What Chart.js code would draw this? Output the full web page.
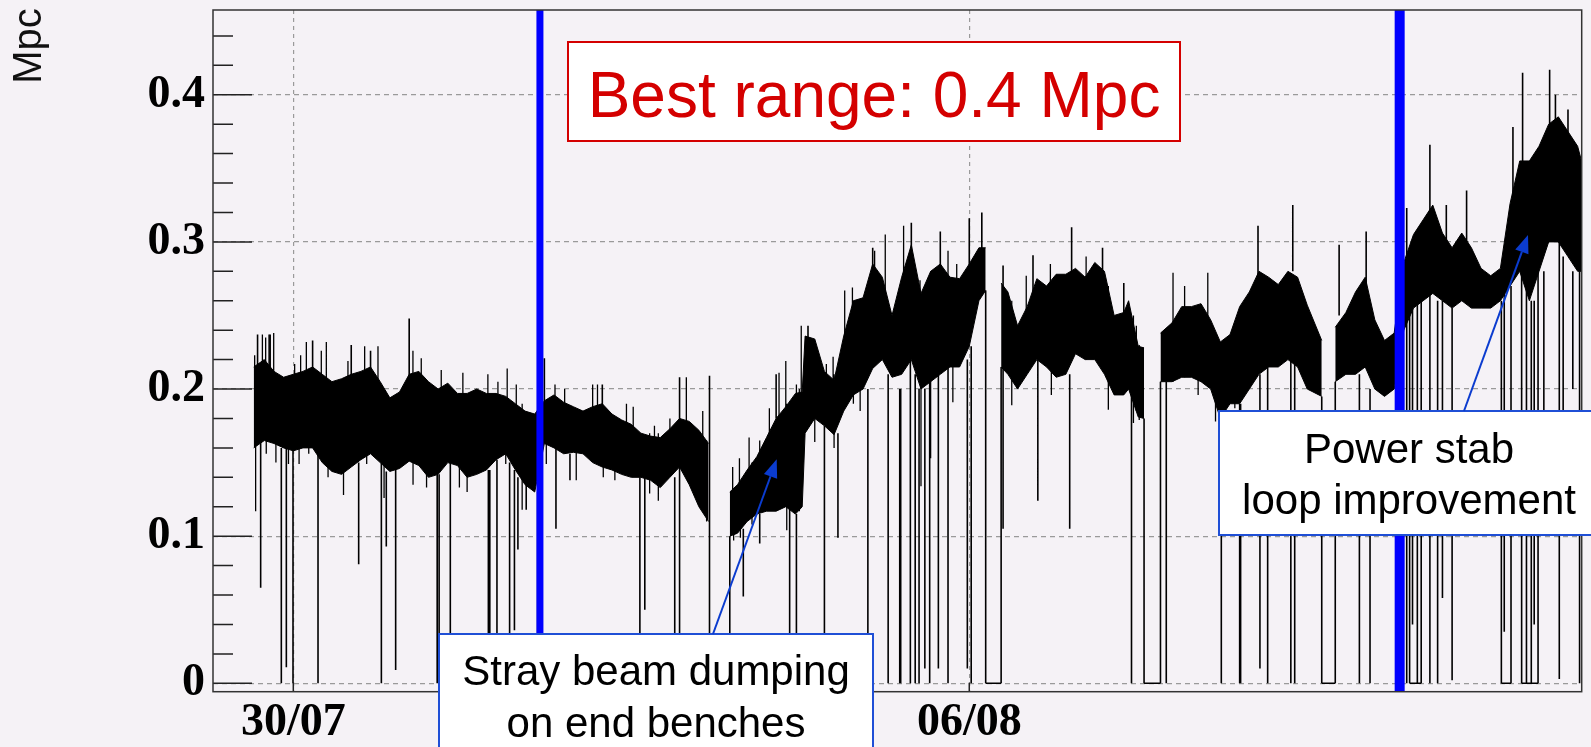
<!DOCTYPE html>
<html>
<head>
<meta charset="utf-8">
<script src="https://cdn.jsdelivr.net/npm/chart.js@4.4.1/dist/chart.umd.min.js"></script>
<style>
  html, body { margin: 0; padding: 0; background: #f5f2f6; }
  #rangeBox { width: 1591px; height: 747px; }
</style>
</head>
<body>
<div id="rangeBox"><canvas id="rangeCanvas" width="1591" height="747"></canvas></div>
<script>
// x is days since 30/07 00:00, y is range in Mpc
const xTickDays = [0, 7];
const xTickLabels = ['30/07', '06/08'];
const yTicks = [0, 0.1, 0.2, 0.3, 0.4];
const yMinorTicks = [0.02, 0.04, 0.06, 0.08, 0.12, 0.14, 0.16, 0.18, 0.22, 0.24, 0.26, 0.28,
  0.32, 0.34, 0.36, 0.38, 0.42, 0.44];

// dense part of the trace: upper / lower edge of the black band
const bandDay = [-0.41, -0.3, -0.2, -0.1, 0, 0.1, 0.2, 0.3, 0.4, 0.5, 0.6, 0.7, 0.8, 0.9, 1.0, 1.1, 1.2, 1.3,
  1.4, 1.5, 1.6, 1.7, 1.8, 1.9, 2.0, 2.1, 2.2, 2.3, 2.4, 2.5, 2.6, 2.7, 2.8, 2.9, 3.0, 3.1, 3.2, 3.3, 3.4,
  3.5, 3.6, 3.7, 3.8, 3.9, 4.0, 4.1, 4.2, 4.3, 4.41, 4.52, 4.6, 4.7, 4.8, 4.9, 5.0, 5.1, 5.2, 5.27, 5.3,
  5.4, 5.5, 5.6, 5.7, 5.8, 5.9, 6.0, 6.1, 6.2, 6.3, 6.4, 6.5, 6.6, 6.7, 6.8, 6.9, 7.0, 7.1, 7.17, 7.25,
  7.33, 7.4, 7.5, 7.6, 7.7, 7.8, 7.9, 8.0, 8.1, 8.2, 8.3, 8.4, 8.5, 8.6, 8.65, 8.75, 8.81, 8.9, 8.98,
  9.1, 9.2, 9.3, 9.4, 9.5, 9.6, 9.7, 9.8, 9.9, 10.0, 10.1, 10.2, 10.3, 10.4, 10.5, 10.65, 10.72, 10.79,
  10.9, 11.0, 11.1, 11.2, 11.3, 11.4, 11.5, 11.6, 11.7, 11.8, 11.9, 12.0, 12.1, 12.2, 12.3, 12.4, 12.5,
  12.6, 12.7, 12.8, 12.9, 13.0, 13.1, 13.2, 13.3, 13.34];
const bandHigh = [0.215, 0.22, 0.212, 0.208, 0.21, 0.212, 0.215, 0.21, 0.205, 0.207, 0.21, 0.212, 0.215,
  0.205, 0.194, 0.198, 0.21, 0.212, 0.205, 0.2, 0.204, 0.197, 0.197, 0.2, 0.197, 0.197, 0.195, 0.19, 0.185,
  0.183, 0.192, 0.196, 0.191, 0.188, 0.185, 0.188, 0.19, 0.183, 0.179, 0.176, 0.17, 0.168, 0.167, 0.173,
  0.18, 0.178, 0.172, 0.163, null, 0.13, 0.135, 0.145, 0.154, 0.167, 0.18, 0.188, 0.197, 0.198, 0.236,
  0.234, 0.212, 0.206, 0.236, 0.26, 0.262, 0.285, 0.276, 0.25, 0.276, 0.298, 0.265, 0.28, 0.285, 0.276,
  0.275, 0.285, 0.296, 0.296, null, 0.272, 0.266, 0.243, 0.256, 0.275, 0.27, 0.278, 0.278, 0.282, 0.276,
  0.286, 0.28, 0.25, 0.252, 0.26, 0.229, 0.228, null, 0.238, 0.245, 0.256, 0.256, 0.258, 0.247, 0.232,
  0.237, 0.256, 0.266, 0.28, 0.276, 0.271, 0.28, 0.276, 0.257, 0.233, null, 0.242, 0.252, 0.266, 0.276,
  0.247, 0.233, 0.238, 0.286, 0.305, 0.315, 0.325, 0.306, 0.296, 0.306, 0.296, 0.282, 0.277, 0.282,
  0.326, 0.355, 0.355, 0.365, 0.38, 0.385, 0.375, 0.365, 0.355];
const bandLow = [0.16, 0.165, 0.163, 0.16, 0.158, 0.16, 0.16, 0.15, 0.144, 0.142, 0.147, 0.152, 0.156,
  0.15, 0.144, 0.146, 0.151, 0.148, 0.14, 0.142, 0.15, 0.148, 0.14, 0.142, 0.145, 0.152, 0.156, 0.145,
  0.135, 0.13, 0.163, 0.16, 0.156, 0.157, 0.156, 0.15, 0.147, 0.145, 0.142, 0.14, 0.14, 0.138, 0.133,
  0.14, 0.147, 0.135, 0.12, 0.11, null, 0.1, 0.102, 0.11, 0.115, 0.117, 0.117, 0.12, 0.115, 0.12, 0.17,
  0.18, 0.175, 0.169, 0.185, 0.196, 0.2, 0.214, 0.22, 0.208, 0.21, 0.22, 0.2, 0.205, 0.21, 0.215,
  0.215, 0.229, 0.26, 0.267, null, 0.215, 0.21, 0.2, 0.21, 0.22, 0.215, 0.208, 0.21, 0.224, 0.22,
  0.22, 0.21, 0.196, 0.196, 0.2, 0.181, 0.18, null, 0.205, 0.205, 0.208, 0.208, 0.205, 0.2, 0.18, 0.19,
  0.19, 0.2, 0.21, 0.215, 0.215, 0.22, 0.215, 0.2, 0.195, null, 0.205, 0.21, 0.21, 0.215, 0.2, 0.195,
  0.2, 0.24, 0.255, 0.26, 0.265, 0.26, 0.255, 0.26, 0.255, 0.255, 0.255, 0.26, 0.27, 0.28, 0.26, 0.28,
  0.3, 0.3, 0.29, 0.28, 0.28];

// single excursions: dropouts and isolated peaks
const spikeDay = [-0.37, -0.338, -0.25, -0.124, -0.072, -0.003, 0.2, 0.256, 0.6, 0.677, 0.8, 0.912,
  0.963, 1.06, 1.2, 1.49, 1.51, 1.626, 2.02, 2.035, 2.109, 2.24, 2.29, 2.326, 2.412, 2.53, 2.6, 2.72,
  2.865, 3.2, 3.589, 3.64, 3.95, 4.0, 4.31, 4.52, 4.66, 4.83, 5.0, 5.14, 5.21, 5.33, 5.5, 5.64, 5.95,
  6.0, 6.16, 6.28, 6.29, 6.39, 6.4, 6.44, 6.48, 6.54, 6.59, 6.68, 6.7, 6.78, 6.98, 7.0, 7.02, 7.13,
  7.17, 7.33, 7.35, 7.66, 7.71, 8.04, 8.06, 8.38, 8.6, 8.68, 8.81, 8.98, 9.04, 9.61, 9.8, 9.81, 9.99,
  10.01, 10.09, 10.33, 10.35, 10.37, 10.65, 10.79, 10.83, 11.04, 11.11, 11.15, 11.53, 11.56, 11.59,
  11.64, 11.68, 11.77, 11.85, 11.9, 11.94, 12.0, 12.15, 12.51, 12.54, 12.61, 12.63, 12.72, 12.73,
  12.77, 12.82, 12.85, 12.89, 12.95, 13.01, 13.07, 13.11, 13.15, 13.2, 13.25, 13.32];
const spikeHigh = [0.237, 0.17, 0.237, 0.16, 0.16, 0.16, 0.233, 0.16, 0.23, 0.15, 0.226, 0.15, 0.144,
  0.146, 0.248, 0.142, 0.142, 0.15, 0.145, 0.145, 0.152, 0.15, 0.145, 0.14, 0.135, 0.13, 0.221, 0.16,
  0.156, 0.203, 0.14, 0.14, 0.14, 0.208, 0.209, 0.1, 0.105, 0.115, 0.21, 0.12, 0.115, 0.243, 0.175,
  0.17, 0.2, 0.296, 0.21, 0.2, 0.2, 0.22, 0.313, 0.21, 0.2, 0.2, 0.205, 0.21, 0.307, 0.215, 0.22,
  0.316, 0.229, 0.32, 0.267, 0.215, 0.284, 0.291, 0.22, 0.21, 0.31, 0.296, 0.272, 0.2, 0.18, 0.205,
  0.205, 0.19, 0.19, 0.19, 0.311, 0.21, 0.215, 0.22, 0.325, 0.22, 0.195, 0.205, 0.298, 0.21, 0.307,
  0.2, 0.323, 0.255, 0.255, 0.26, 0.26, 0.366, 0.26, 0.26, 0.325, 0.255, 0.335, 0.26, 0.27, 0.27,
  0.378, 0.28, 0.415, 0.28, 0.26, 0.26, 0.28, 0.28, 0.417, 0.4, 0.3, 0.29, 0.39, 0.28, 0.28];
const spikeLow = [0.2, 0.065, 0.2, 0, 0.011, 0, 0.2, 0, 0.2, 0.081, 0.2, 0, 0.093, 0.009, 0.2, 0, 0,
  0.034, 0, 0, 0.034, 0.034, 0.036, 0.091, 0.118, 0, 0.19, 0.105, 0.138, 0.18, 0, 0.05, 0, 0, 0, 0,
  0.059, 0.095, 0.18, 0, 0, 0.22, 0, 0.099, 0, 0.27, 0, 0, 0, 0, 0.29, 0, 0, 0.01, 0, 0.01, 0.28, 0,
  0.01, 0.28, 0, 0.29, 0, 0, 0.105, 0.26, 0.124, 0.105, 0.28, 0.28, 0.25, 0, 0, 0, 0, 0, 0, 0, 0.27,
  0.01, 0, 0, 0.28, 0, 0, 0, 0.25, 0, 0.27, 0, 0, 0, 0.04, 0, 0, 0, 0, 0.058, 0.3, 0.002, 0.3, 0,
  0.035, 0, 0.33, 0, 0.35, 0, 0, 0.04, 0, 0.15, 0.37, 0.37, 0.003, 0.12, 0.37, 0.2, 0];

// short hairs sticking out of the band
const whiskerDay = [-0.4, -0.32, -0.286, -0.238, -0.203, 0.014, 0.076, 0.135, 0.29, 0.342, 0.566, 0.739,
  0.877, 1.239, 1.325, 1.532, 1.756, 2.015, 2.119, 2.215, 2.309, 2.71, 2.81, 3.1, 3.15, 3.45, 3.52,
  3.74, 3.9, 4.07, 4.24, 4.55, 4.62, 4.72, 4.83, 4.93, 5.03, 5.1, 5.21, 5.26, 5.52, 5.59, 5.71, 5.79,
  6.02, 6.13, 6.32, 6.49, 6.78, 6.87, 7.59, 7.84, 8.21, 8.73, 9.11, 9.23, 9.47,
  -0.39, -0.28, -0.18, -0.05, 0.06, 0.16, 0.36, 0.52, 0.76, 0.94, 1.24, 1.38, 1.72, 1.8, 2.2, 2.37,
  2.49, 2.62, 2.93, 3.21, 3.33, 3.69, 3.78, 4.21, 4.28, 4.56, 4.63, 4.75, 5.11, 5.24, 5.4, 5.6, 5.8,
  5.87, 6.5, 6.6, 6.83, 7.44, 7.85, 8.44, 8.7, 8.76, 9.37, 9.55, 9.75];
const whiskerHigh = [0.223, 0.237, 0.235, 0.237, 0.238, 0.217, 0.223, 0.232, 0.226, 0.232, 0.219, 0.229,
  0.229, 0.226, 0.221, 0.213, 0.211, 0.21, 0.205, 0.214, 0.203, 0.203, 0.2, 0.203, 0.203, 0.19, 0.188,
  0.175, 0.18, 0.208, 0.185, 0.147, 0.153, 0.167, 0.165, 0.187, 0.211, 0.219, 0.203, 0.243, 0.217,
  0.222, 0.267, 0.269, 0.294, 0.305, 0.311, 0.274, 0.294, 0.285, 0.277, 0.285, 0.29, 0.243, 0.279,
  0.27, 0.279,
  0.2, 0.2, 0.2, 0.2, 0.2, 0.2, 0.2, 0.19, 0.2, 0.19, 0.2, 0.2, 0.19, 0.19, 0.19, 0.19, 0.18, 0.19,
  0.185, 0.185, 0.18, 0.17, 0.17, 0.17, 0.165, 0.13, 0.135, 0.15, 0.19, 0.2, 0.23, 0.21, 0.26, 0.26,
  0.26, 0.28, 0.27, 0.26, 0.27, 0.27, 0.25, 0.23, 0.25, 0.23, 0.24];
const whiskerLow = [0.17, 0.17, 0.17, 0.17, 0.17, 0.165, 0.165, 0.165, 0.16, 0.155, 0.155, 0.16, 0.16,
  0.155, 0.155, 0.15, 0.15, 0.15, 0.155, 0.155, 0.15, 0.165, 0.16, 0.155, 0.155, 0.15, 0.145, 0.14,
  0.145, 0.15, 0.13, 0.105, 0.105, 0.115, 0.12, 0.12, 0.12, 0.12, 0.12, 0.13, 0.18, 0.175, 0.19, 0.2,
  0.22, 0.22, 0.215, 0.205, 0.215, 0.215, 0.21, 0.215, 0.22, 0.185, 0.205, 0.208, 0.205,
  0.117, 0.156, 0.15, 0.149, 0.149, 0.156, 0.14, 0.128, 0.149, 0.126, 0.135, 0.133, 0.133, 0.13, 0.149,
  0.118, 0.131, 0.149, 0.138, 0.14, 0.138, 0.129, 0.124, 0.12, 0.11, 0.097, 0.099, 0.108, 0.104,
  0.117, 0.164, 0.16, 0.19, 0.185, 0.134, 0.153, 0.191, 0.189, 0.196, 0.186, 0.177, 0.179, 0.196,
  0.178, 0.187];

// stretches where the range sat at zero
const zeroStart = [4.31, 7.17, 8.81, 10.65, 11.56, 12.51, 12.72];
const zeroEnd = [4.52, 7.33, 8.98, 10.79, 11.68, 12.61, 12.89];

// blue markers
const markerDay = [2.554, 11.457];

const X_MIN = -0.8315;
const X_MAX = 13.342;
const Y_MIN = -0.0057;
const Y_MAX = 0.4576;

const upper = bandDay.map((d, i) => ({ x: d, y: bandHigh[i] }));
const lower = bandDay.map((d, i) => ({ x: d, y: bandLow[i] }));

const verticals = (days, highs, lows) => {
  const pts = [];
  days.forEach((d, i) => {
    pts.push({ x: d, y: highs[i] }, { x: d, y: lows[i] }, { x: d, y: null });
  });
  return pts;
};

const zeros = [];
zeroStart.forEach((d, i) => {
  zeros.push({ x: d, y: 0 }, { x: zeroEnd[i], y: 0 }, { x: zeroEnd[i], y: null });
});

const markerLine = d => [{ x: d, y: Y_MIN }, { x: d, y: Y_MAX }];

const tickFont = { family: '"Liberation Serif", "Times New Roman", serif', size: 46, weight: 'bold' };

/**
 * ROOT style frame, inner ticks, axis title and the slide annotations
 */
const framePlugin = {
  id: 'rootFrame',
  beforeDraw(chart) {
    const { ctx, width, height } = chart;
    ctx.save();
    ctx.fillStyle = '#f5f2f6';
    ctx.fillRect(0, 0, width, height);
    ctx.restore();
  },
  afterDatasetsDraw(chart) {
    const { ctx, chartArea: a, scales: { x, y } } = chart;
    ctx.save();
    ctx.strokeStyle = '#222';
    ctx.lineWidth = 1.5;
    ctx.beginPath();
    yTicks.forEach(v => {
      const py = y.getPixelForValue(v);
      ctx.moveTo(a.left, py);
      ctx.lineTo(a.left + 39, py);
    });
    yMinorTicks.forEach(v => {
      const py = y.getPixelForValue(v);
      ctx.moveTo(a.left, py);
      ctx.lineTo(a.left + 20, py);
    });
    xTickDays.forEach(d => {
      const px = x.getPixelForValue(d);
      ctx.moveTo(px, a.bottom);
      ctx.lineTo(px, a.bottom - 9);
    });
    ctx.stroke();
    ctx.strokeStyle = '#333';
    ctx.strokeRect(a.left, a.top, a.right - a.left, a.bottom - a.top);
    ctx.restore();
  },
  afterDraw(chart) {
    const { ctx, scales: { x, y } } = chart;
    ctx.save();

    // y axis title
    ctx.translate(41, 46);
    ctx.rotate(-Math.PI / 2);
    ctx.fillStyle = '#111';
    ctx.font = '40px "Liberation Sans", Arial, sans-serif';
    ctx.textAlign = 'center';
    ctx.textBaseline = 'alphabetic';
    ctx.fillText('Mpc', 0, 0);
    ctx.setTransform(1, 0, 0, 1, 0, 0);

    const box = (l, t, w, h, stroke) => {
      ctx.fillStyle = '#ffffff';
      ctx.fillRect(l, t, w, h);
      ctx.strokeStyle = stroke;
      ctx.lineWidth = 2;
      ctx.strokeRect(l, t, w, h);
    };

    const arrow = (x0, y0, x1, y1) => {
      const ang = Math.atan2(y1 - y0, x1 - x0);
      const len = 18;
      const half = 7;
      ctx.strokeStyle = '#0b3ccf';
      ctx.fillStyle = '#0b3ccf';
      ctx.lineWidth = 2;
      ctx.beginPath();
      ctx.moveTo(x0, y0);
      ctx.lineTo(x1 - len * Math.cos(ang), y1 - len * Math.sin(ang));
      ctx.stroke();
      ctx.beginPath();
      ctx.moveTo(x1, y1);
      ctx.lineTo(x1 - len * Math.cos(ang) - half * Math.sin(ang), y1 - len * Math.sin(ang) + half * Math.cos(ang));
      ctx.lineTo(x1 - len * Math.cos(ang) + half * Math.sin(ang), y1 - len * Math.sin(ang) - half * Math.cos(ang));
      ctx.closePath();
      ctx.fill();
    };

    // best range label
    box(568, 42, 612, 99, '#d40000');
    ctx.fillStyle = '#d40000';
    ctx.font = '64px "Liberation Sans", Arial, sans-serif';
    ctx.textAlign = 'center';
    ctx.textBaseline = 'alphabetic';
    ctx.fillText('Best range: 0.4 Mpc', 874, 117);

    // stray beam note
    box(439, 634, 434, 140, '#1f4fd6');
    ctx.fillStyle = '#000';
    ctx.font = '42px "Liberation Sans", Arial, sans-serif';
    ctx.fillText('Stray beam dumping', 656, 685);
    ctx.fillText('on end benches', 656, 737);
    arrow(713, 634, x.getPixelForValue(5.006), y.getPixelForValue(0.1522));

    // power stabilisation note
    box(1219, 411, 400, 124, '#1f4fd6');
    ctx.fillStyle = '#000';
    ctx.fillText('Power stab', 1409, 463);
    ctx.fillText('loop improvement', 1409, 514);
    arrow(1464, 411, x.getPixelForValue(12.786), y.getPixelForValue(0.3047));

    ctx.restore();
  },
};

const ctx = document.getElementById('rangeCanvas').getContext('2d');

new Chart(ctx, {
  type: 'line',
  data: {
    datasets: [
      { data: markerLine(markerDay[0]), borderColor: '#0000ff', borderWidth: 7, pointRadius: 0, clip: 0, order: 0 },
      { data: markerLine(markerDay[1]), borderColor: '#0000ff', borderWidth: 10, pointRadius: 0, clip: 0, order: 0 },
      {
        data: upper,
        borderColor: '#000',
        backgroundColor: '#000',
        borderWidth: 1,
        pointRadius: 0,
        fill: '+1',
        order: 3,
      },
      { data: lower, borderColor: '#000', borderWidth: 1, pointRadius: 0, fill: false, order: 3 },
      { data: verticals(spikeDay, spikeHigh, spikeLow), borderColor: '#000', borderWidth: 1.6, pointRadius: 0, fill: false, order: 2 },
      { data: verticals(whiskerDay, whiskerHigh, whiskerLow), borderColor: '#000', borderWidth: 1.3, pointRadius: 0, fill: false, order: 2 },
      { data: zeros, borderColor: '#000', borderWidth: 1.6, pointRadius: 0, fill: false, order: 2 },
    ],
  },
  options: {
    responsive: false,
    animation: false,
    devicePixelRatio: 1,
    spanGaps: false,
    layout: { padding: { top: 10, right: 9.3, left: 0, bottom: 0 } },
    plugins: { legend: { display: false }, tooltip: { enabled: false } },
    scales: {
      x: {
        type: 'linear',
        min: X_MIN,
        max: X_MAX,
        afterBuildTicks: scale => {
          scale.ticks = xTickDays.map(v => ({ value: v }));
        },
        afterFit: scale => {
          scale.height = 55.3;
          scale.paddingLeft = 0;
          scale.paddingRight = 0;
        },
        grid: { color: '#9a9a9a', lineWidth: 1.2, drawTicks: false },
        border: { display: false, dash: [4, 4] },
        ticks: {
          font: tickFont,
          color: '#000',
          padding: 4,
          maxRotation: 0,
          autoSkip: false,
          callback: value => xTickLabels[xTickDays.indexOf(value)] || '',
        },
      },
      y: {
        type: 'linear',
        min: Y_MIN,
        max: Y_MAX,
        afterBuildTicks: scale => {
          scale.ticks = yTicks.map(v => ({ value: v }));
        },
        afterFit: scale => {
          scale.width = 213;
          scale.paddingTop = 0;
          scale.paddingBottom = 0;
        },
        grid: { color: '#9a9a9a', lineWidth: 1.2, drawTicks: false },
        border: { display: false, dash: [5, 4] },
        ticks: {
          font: tickFont,
          color: '#000',
          padding: 8,
          callback: value => String(value),
        },
      },
    },
  },
  plugins: [framePlugin],
});
</script>
</body>
</html>
